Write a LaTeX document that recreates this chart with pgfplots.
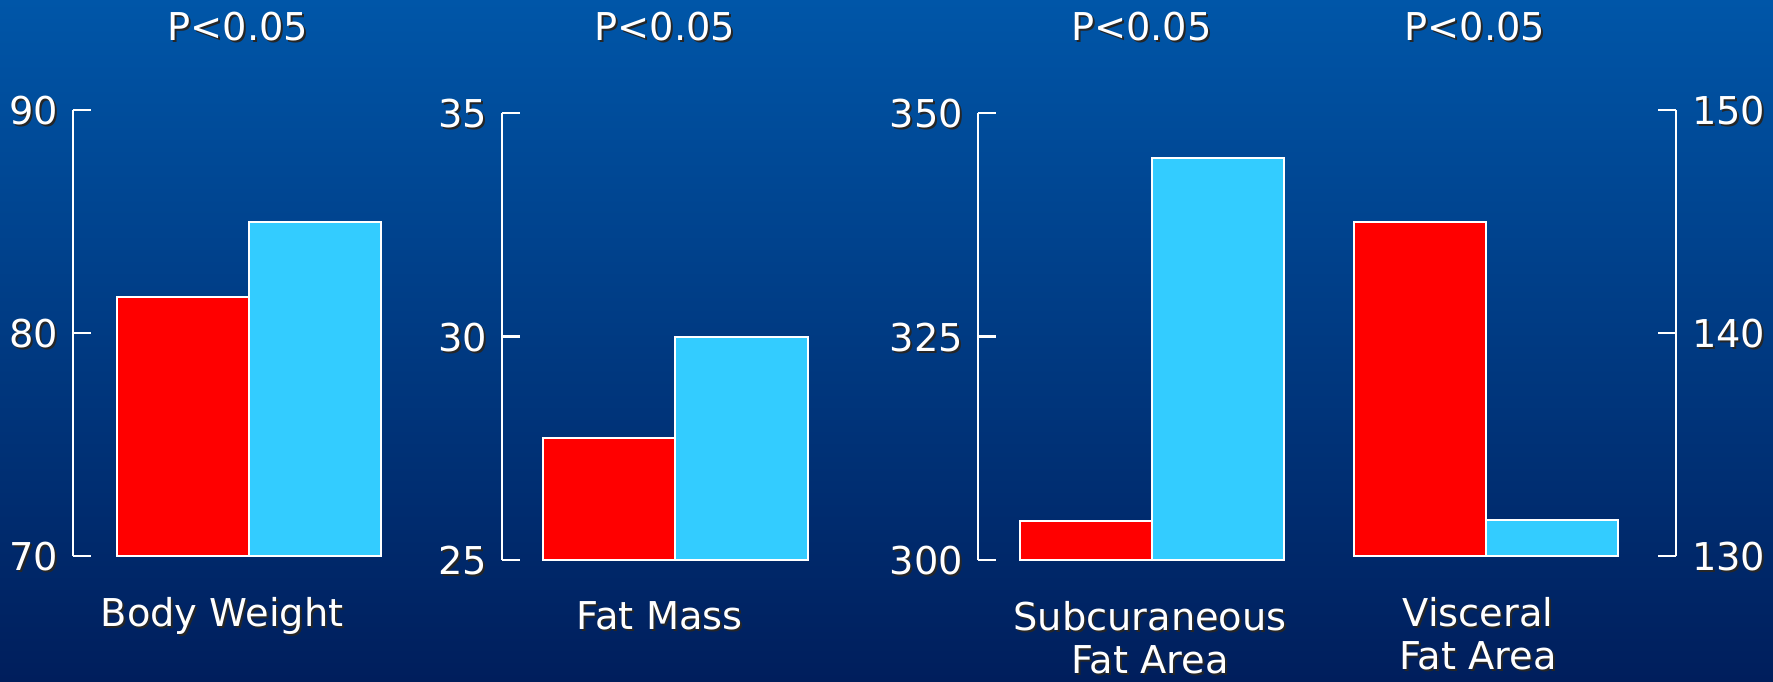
\documentclass[border=0pt]{standalone}
\usepackage{pgfplots}
\pgfplotsset{compat=1.18}
\usepackage{fontspec}
\setmainfont{DejaVu Sans}
\definecolor{bgtop}{RGB}{0,86,168}
\definecolor{bgbot}{RGB}{0,30,92}
\definecolor{barred}{RGB}{255,0,0}
\definecolor{barcyan}{RGB}{51,204,255}
\newcommand{\sh}[1]{\makebox[0pt][l]{\kern0.6pt\raisebox{-0.6pt}{\textcolor{black!85}{#1}}}#1}
\newcommand{\tfont}{\fontsize{11.5}{13.0}\selectfont}
\pgfplotsset{
 panel/.style={
  scale only axis, anchor=south west,
  enlargelimits=false, clip=false,
  axis x line*=bottom,
  x axis line style={draw=none},
  y axis line style={white, line width=0.7pt, -},
  major x tick style={draw=none},
  major y tick style={white, line width=0.7pt},
  major tick length=5.4pt,
  tick align=inside,
  minor tick num=0,
  tick label style={font=\tfont, text=white},
  yticklabel style={inner sep=0pt, yshift=-0.6pt},
  xticklabel style={inner sep=0pt, anchor=north, yshift=-12.2pt, align=center},
 },
 bars/.style={ybar, bar shift=0pt, bar width=1, draw=white, line width=0.6pt},
}
\begin{document}
\begin{tikzpicture}
\useasboundingbox (0,0) rectangle (531.9pt,204.3pt);
\shade[top color=bgtop, bottom color=bgbot] (0,0) rectangle (531.9pt,204.3pt);

% Body Weight
\begin{axis}[panel, at={(21.9pt,37.5pt)}, width=92.25pt, height=133.8pt,
  axis y line*=left, yticklabel style={xshift=-4.3pt},
  xmin=-0.83, xmax=1.5, ymin=70, ymax=90,
  ytick={70,80,90}, yticklabels={\sh{70},\sh{80},\sh{90}},
  xtick={0.30}, xticklabels={\sh{Body Weight}}]
\addplot[bars, fill=barred] coordinates {(0,81.6)};
\addplot[bars, fill=barcyan] coordinates {(1,85.0)};
\node[text=white, inner sep=0pt, font=\tfont] at (axis cs:0.42,93.72) {\sh{P<0.05}};
\end{axis}

% Fat Mass
\begin{axis}[panel, at={(150.6pt,36.3pt)}, width=91.65pt, height=134.1pt,
  axis y line*=left, yticklabel style={xshift=-4.3pt},
  xmin=-0.814, xmax=1.5, ymin=25, ymax=35,
  ytick={25,30,35}, yticklabels={\sh{25},\sh{30},\sh{35}},
  xtick={0.38}, xticklabels={\sh{Fat Mass}}]
\addplot[bars, fill=barred] coordinates {(0,27.72)};
\addplot[bars, fill=barcyan] coordinates {(1,30.0)};
\node[text=white, inner sep=0pt, font=\tfont] at (axis cs:0.42,36.92) {\sh{P<0.05}};
\end{axis}

% Subcutaneous Fat Area
\begin{axis}[panel, at={(293.4pt,36.3pt)}, width=91.8pt, height=134.1pt,
  axis y line*=left, yticklabel style={xshift=-4.3pt},
  xmin=-0.818, xmax=1.5, ymin=300, ymax=350,
  ytick={300,325,350}, yticklabels={\sh{300},\sh{325},\sh{350}},
  xtick={0.485}, xticklabels={{\sh{Subcuraneous}\\\sh{Fat Area}}}]
\addplot[bars, fill=barred] coordinates {(0,304.4)};
\addplot[bars, fill=barcyan] coordinates {(1,345.0)};
\node[text=white, inner sep=0pt, font=\tfont] at (axis cs:0.42,359.6) {\sh{P<0.05}};
\end{axis}

% Visceral Fat Area
\begin{axis}[panel, at={(406.05pt,37.5pt)}, width=96.75pt, height=133.8pt,
  axis y line*=right, yticklabel style={xshift=4.6pt},
  xmin=-0.5, xmax=1.943, ymin=130, ymax=150,
  ytick={130,140,150}, yticklabels={\sh{130},\sh{140},\sh{150}},
  xtick={0.443}, xticklabels={{\sh{Visceral}\\\sh{Fat Area}}}]
\addplot[bars, fill=barred] coordinates {(0,145.0)};
\addplot[bars, fill=barcyan] coordinates {(1,131.6)};
\node[text=white, inner sep=0pt, font=\tfont] at (axis cs:0.42,153.72) {\sh{P<0.05}};
\end{axis}
\end{tikzpicture}
\end{document}
